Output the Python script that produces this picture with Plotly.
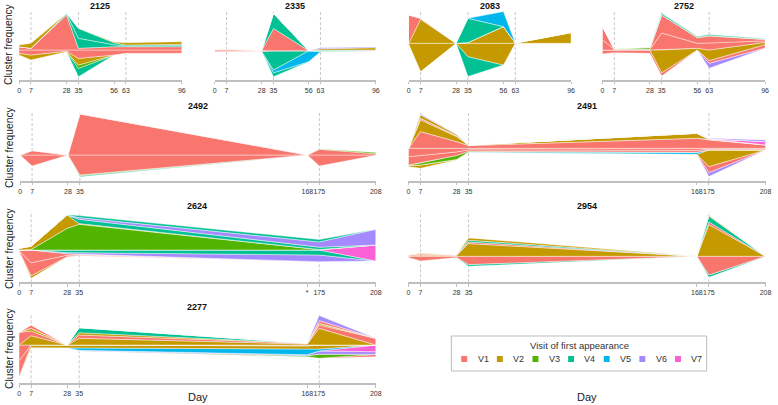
import plotly.graph_objects as go

W, H = 778, 405

# ---------------- data ----------------
VISITS = ["V1", "V2", "V3", "V4", "V5", "V6", "V7"]
VISIT_COLORS = ["#F8766D", "#C49A00", "#53B400", "#00C094", "#00B6EB", "#A58AFF", "#FB61D7"]
COLOR = dict(zip(VISITS, VISIT_COLORS))

DAYS_A = [0, 7, 28, 35, 56, 63, 96]
DAYS_B = [0, 7, 28, 35, 168, 175, 208]
DAYS_2624 = [0, 7, 28, 35, 175, 208]
TICKTEXT_2624 = ["0", "7", "28", "35", "*", "175", "208"]

# each panel: baseline (bottom of stack, relative to centre) and layers stacked bottom -> top
base_2125 = [-5, -10, -1.7, -26.7, -5, -3.3, -3.3]
layers_2125 = [
    ("V4", [0, 0, 0, 8.3, 0, 0, 0]),
    ("V3", [0, 0, 0, 3.3, 0, 0, 0]),
    ("V2", [1.7, 5, 0.5, 6.7, 0, 0, 0]),
    ("V1", [3.3, 5, 1.2, 8.4, 5, 3.3, 3.3]),
    ("V1", [3.3, 1.7, 35, 1.7, 3.3, 3.3, 3.3]),
    ("V4", [0, 0, 1.2, 10, 2, 0.8, 1.2]),
    ("V4", [0, 0, 0.3, 10, 2, 0.9, 1.1]),
    ("V2", [1.7, 5, 0, 0, 0.7, 2.3, 2.7]),
]

base_2335 = [-1, -0.7, -0.7, -26, -11, -1, -1]
layers_2335 = [
    ("V4", [0, 0, 0, 4, 0, 0, 0]),
    ("V5", [0, 0, 0, 2.7, 11, 0.3, 0.3]),
    ("V4", [0, 0, 0, 19.3, 0, 0, 0]),
    ("V1", [1, 0.7, 0.7, 0, 0, 0.7, 0.7]),
    ("V1", [1.3, 1.3, 0.3, 22.3, 0, 0.7, 0.7]),
    ("V4", [0, 0, 0, 15, 0, 0, 0]),
    ("V2", [0, 0.3, 0, 0, 0, 1.3, 2.3]),
    ("V6", [0, 0, 0, 0, 0, 1, 0.7]),
]

base_2083 = [-1, -28.3, 0, -33.3, -21.7, 0, -0.7]
layers_2083 = [
    ("V4", [0, 0, 0, 20, 0, 0, 0]),
    ("V2", [1, 28.3, 0, 13.3, 21.7, 0, 0.7]),
    ("V2", [0, 24, 0, 0.7, 16.7, 0.3, 10.7]),
    ("V1", [28.3, 1, 0, 0, 0, 0, 0]),
    ("V4", [0, 0, 0, 24.3, 0, 0, 0]),
    ("V5", [0, 0, 0, 0, 15, 0, 0]),
]

base_2752 = [-4, -2.7, -3.3, -26, 0, -18.3, 1.7]
layers_2752 = [
    ("V6", [0, 0, 0, 0, 0, 5, 0.3]),
    ("V1", [4, 2.7, 3.3, 3.3, 0, 2.7, 3.3]),
    ("V2", [0, 0, 0, 22.7, 1.7, 10.6, 2.3]),
    ("V1", [10, 0.7, 0.7, 17, 5, 7, 1.5]),
    ("V1", [13.3, 0, 0, 18, 5.5, 7, 1.5]),
    ("V3", [0, 0.3, 1.7, 0, 0.5, 0.5, 0]),
    ("V4", [0, 0, 0, 1.5, 0.8, 1, 0.5]),
]

base_2492 = [0, -11, 0, -21.7, 0, -11, -0.3]
layers_2492 = [
    ("V4", [0, 0, 0, 1, 0, 0, 0]),
    ("V3", [0, 0, 0, 0.7, 0, 0, 0]),
    ("V1", [0, 11, 0, 20, 0, 11, 0.3]),
    ("V1", [0, 4.3, 0, 41, 0, 5.7, 1.3]),
    ("V3", [0, 0, 0, 0, 0, 0.3, 1.3]),
]

base_2491 = [-18.3, -20, -11.7, -4, -6, -28.3, -1.7]
layers_2491 = [
    ("V6", [0, 0, 0, 0, 0, 4, 0]),
    ("V1", [0, 0, 0, 0, 0, 6, 0]),
    ("V2", [1.5, 3.3, 0.5, 0, 0, 16.7, 0]),
    ("V5", [0, 0, 0, 0.3, 2, 0, 0]),
    ("V3", [0, 2, 4, 0.7, 0, 0, 0]),
    ("V1", [8.4, 7.4, 3.6, 1.5, 2, 0.8, 0.85]),
    ("V1", [8.4, 7.3, 3.6, 1.5, 2, 0.8, 0.85]),
    ("V1", [0, 16.7, 6.7, 2.7, 10, 8.3, 3.3]),
    ("V2", [0, 11.7, 5, 0.5, 5, 0.5, 0]),
    ("V1", [0, 1.7, 0.8, 0, 0, 0.7, 0]),
    ("V7", [0, 0, 0, 0, 0, 0, 3.3]),
    ("V2", [0, 3.3, 1.3, 0, 0.3, 0, 0]),
    ("V6", [0, 1, 0.3, 0, 0, 0.5, 1.7]),
]

base_2624 = [-1, -28.3, -6.7, -5.7, -11.7, -11]
layers_2624 = [
    ("V2", [0, 2.5, 0, 0, 0, 0]),
    ("V1", [0.5, 13, 1.5, 0.5, 0, 0]),
    ("V1", [0.5, 12.8, 1.5, 0.5, 0, 0]),
    ("V6", [0, 0, 1, 2, 6.7, 0]),
    ("V4", [0, 0, 2.7, 2.7, 5, 0]),
    ("V7", [0, 0, 0, 0, 0, 16]),
    ("V3", [0, 0.5, 21.7, 25.7, 0.5, 0]),
    ("V2", [1.7, 3.3, 13.3, 0.7, 0, 0]),
    ("V4", [0, 0, 0, 4.3, 2.3, 0]),
    ("V6", [0, 0, 0, 1.7, 5.3, 15.7]),
    ("V4", [0, 0, 0.3, 2, 2.3, 0]),
]

base_2954 = [-1.3, -4.7, -1.3, -10, 0, -21, 0]
layers_2954 = [
    ("V4", [0, 0, 0, 1.7, 0, 2.3, 0]),
    ("V1", [1.3, 4.7, 1.3, 8.3, 0, 18.7, 0]),
    ("V2", [0.3, 1, 0.7, 12.7, 0, 31.7, 0]),
    ("V1", [1, 1.5, 0.7, 1.7, 0, 2.7, 0]),
    ("V4", [0, 0, 0, 1.7, 0, 5.7, 0]),
    ("V2", [0, 0.5, 0, 2.3, 0, 0.7, 0]),
]

base_2277 = [-31.7, -2.7, -2.7, -6, -11.7, -13.3, -11.7]
layers_2277 = [
    ("V1", [0, 0, 0, 0, 0, 0, 2.3]),
    ("V3", [0, 0, 0, 0, 1, 4, 0]),
    ("V6", [0, 0, 0, 0.7, 1, 3.3, 2.7]),
    ("V7", [0, 0, 0, 0, 0, 0, 6.7]),
    ("V5", [0, 0, 0, 2.3, 5.7, 2, 0]),
    ("V2", [0, 2.7, 2.7, 3, 3, 4, 0]),
    ("V1", [16, 0, 0, 0, 0.5, 0, 0]),
    ("V1", [15.7, 0, 0, 0, 0.5, 0, 0]),
    ("V2", [0, 9.3, 0, 6.7, 1, 16.7, 0]),
    ("V1", [12.7, 4.7, 0, 3.3, 0.7, 3.3, 6.7]),
    ("V2", [0, 2.7, 0, 2.3, 0, 1.7, 0]),
    ("V4", [0, 0, 0, 5, 0, 0, 0]),
    ("V1", [0, 3.3, 0, 0, 0, 2.7, 0]),
    ("V6", [0, 0, 0, 0, 0, 5, 0]),
]

# ---------------- layout (pixel geometry) ----------------
def px_x(p):
    return p / W


def px_y(p):
    return 1 - p / H


panels = [
    dict(title="2125", days=DAYS_A, base=base_2125, layers=layers_2125, ticks=DAYS_A, ticktext=None,
         dash=[7, 35, 63], x0=17.3, x1=181.7, axis=80, center=50, top=12),
    dict(title="2335", days=DAYS_A, base=base_2335, layers=layers_2335, ticks=DAYS_A, ticktext=None,
         dash=[7, 35, 63], x0=215, x1=377.7, axis=80, center=50.7, top=12),
    dict(title="2083", days=DAYS_A, base=base_2083, layers=layers_2083, ticks=DAYS_A, ticktext=None,
         dash=[7, 35, 63], x0=411, x1=575, axis=80, center=43.3, top=12),
    dict(title="2752", days=DAYS_A, base=base_2752, layers=layers_2752, ticks=DAYS_A, ticktext=None,
         dash=[7, 35, 63], x0=606.7, x1=771, axis=80, center=50, top=12),
    dict(title="2492", days=DAYS_B, base=base_2492, layers=layers_2492, ticks=DAYS_B, ticktext=None,
         dash=[7, 35, 175], x0=18.3, x1=377.7, axis=181, center=155, top=111.7),
    dict(title="2491", days=DAYS_B, base=base_2491, layers=layers_2491, ticks=DAYS_B, ticktext=None,
         dash=[7, 35, 175], x0=410.7, x1=771.5, axis=181, center=148.3, top=111.7),
    dict(title="2624", days=DAYS_2624, base=base_2624, layers=layers_2624, ticks=DAYS_B, ticktext=TICKTEXT_2624,
         dash=[7, 35, 175], x0=17.3, x1=377.7, axis=282.3, center=250, top=211.7),
    dict(title="2954", days=DAYS_B, base=base_2954, layers=layers_2954, ticks=DAYS_B, ticktext=None,
         dash=[7, 35, 175], x0=410.7, x1=771.5, axis=282.3, center=256.3, top=211.7),
    dict(title="2277", days=DAYS_B, base=base_2277, layers=layers_2277, ticks=DAYS_B, ticktext=None,
         dash=[7, 35, 175], x0=17.3, x1=377.7, axis=383.3, center=345, top=313),
]

FONT = "Liberation Sans, Arial, sans-serif"
AXIS_GREY = "#bfbfbf"

fig = go.Figure()
layout = dict(
    width=W, height=H, margin=dict(l=0, r=0, t=0, b=0),
    paper_bgcolor="white", plot_bgcolor="white", showlegend=False,
    font=dict(family=FONT, color="#333333"),
)
shapes = []
annotations = []

for i, p in enumerate(panels, start=1):
    xr = "x" if i == 1 else f"x{i}"
    yr = "y" if i == 1 else f"y{i}"
    xkey = "xaxis" if i == 1 else f"xaxis{i}"
    ykey = "yaxis" if i == 1 else f"yaxis{i}"
    days = p["days"]
    lower = list(p["base"])
    for visit, vals in p["layers"]:
        upper = [a + b for a, b in zip(lower, vals)]
        fig.add_trace(go.Scatter(
            x=days + days[::-1], y=upper + lower[::-1],
            fill="toself", fillcolor=COLOR[visit], mode="lines",
            line=dict(color="rgba(255,255,255,0.55)", width=0.8),
            xaxis=xr, yaxis=yr, hoverinfo="skip", showlegend=False,
        ))
        lower = upper
    dom_top = p["top"] - 8
    layout[xkey] = dict(
        domain=[px_x(p["x0"]), px_x(p["x1"])], range=[0, p["ticks"][-1]], anchor=yr,
        showline=True, linecolor=AXIS_GREY, linewidth=1.5, showgrid=False, zeroline=False,
        ticks="outside", ticklen=2.5, tickwidth=1, tickcolor=AXIS_GREY, tickangle=0,
        tickvals=p["ticks"], ticktext=p["ticktext"] if p["ticktext"] else [str(t) for t in p["ticks"]],
        tickfont=dict(size=7, color="#333333", family=FONT), fixedrange=True,
    )
    layout[ykey] = dict(
        domain=[px_y(p["axis"]), px_y(dom_top)], anchor=xr,
        range=[-(p["axis"] - p["center"]), p["center"] - dom_top],
        visible=False, showgrid=False, zeroline=False, fixedrange=True,
    )
    for d in p["dash"]:
        shapes.append(dict(type="line", xref=xr, yref="paper", x0=d, x1=d,
                           y0=px_y(p["axis"]), y1=px_y(p["top"]),
                           line=dict(color="#c8c8c8", width=1, dash="3px,2px"), layer="below"))
    annotations.append(dict(text=f"<b>{p['title']}</b>", xref="paper", yref="paper",
                            x=px_x((p["x0"] + p["x1"]) / 2), y=px_y(p["top"] - 6),
                            showarrow=False, xanchor="center", yanchor="middle",
                            font=dict(size=9, color="#111111", family=FONT)))

# y-axis titles (one per row)
for cy in [44, 147, 248, 348]:
    annotations.append(dict(text="Cluster frequency", xref="paper", yref="paper",
                            x=px_x(7), y=px_y(cy), textangle=-90, showarrow=False,
                            xanchor="center", yanchor="middle",
                            font=dict(size=10.3, color="#222222", family=FONT)))

# x-axis titles
for cx in [591, 198]:
    annotations.append(dict(text="Day", xref="paper", yref="paper", x=px_x(cx), y=px_y(397),
                            showarrow=False, xanchor="center", yanchor="middle",
                            font=dict(size=11, color="#222222", family=FONT)))

# legend (manual)
shapes.append(dict(type="rect", xref="paper", yref="paper",
                   x0=px_x(454), x1=px_x(712), y0=px_y(371), y1=px_y(336),
                   line=dict(color="#bbbbbb", width=1), fillcolor="white"))
annotations.append(dict(text="Visit of first appearance", xref="paper", yref="paper",
                        x=px_x(583), y=px_y(345), showarrow=False, xanchor="center", yanchor="middle",
                        font=dict(size=9.5, color="#333333", family=FONT)))
for k, (v, c) in enumerate(zip(VISITS, VISIT_COLORS)):
    cx = 467 + 36 * k
    shapes.append(dict(type="rect", xref="paper", yref="paper",
                       x0=px_x(cx - 3), x1=px_x(cx + 3), y0=px_y(362), y1=px_y(356),
                       line=dict(width=0), fillcolor=c))
    annotations.append(dict(text=v, xref="paper", yref="paper", x=px_x(cx + 11.5), y=px_y(359),
                            showarrow=False, xanchor="left", yanchor="middle",
                            font=dict(size=9, color="#333333", family=FONT)))

layout["shapes"] = shapes
layout["annotations"] = annotations
fig.update_layout(**layout)
fig.write_html("out.html", config={"displayModeBar": False},
               post_script="document.body.style.margin='0px';")
